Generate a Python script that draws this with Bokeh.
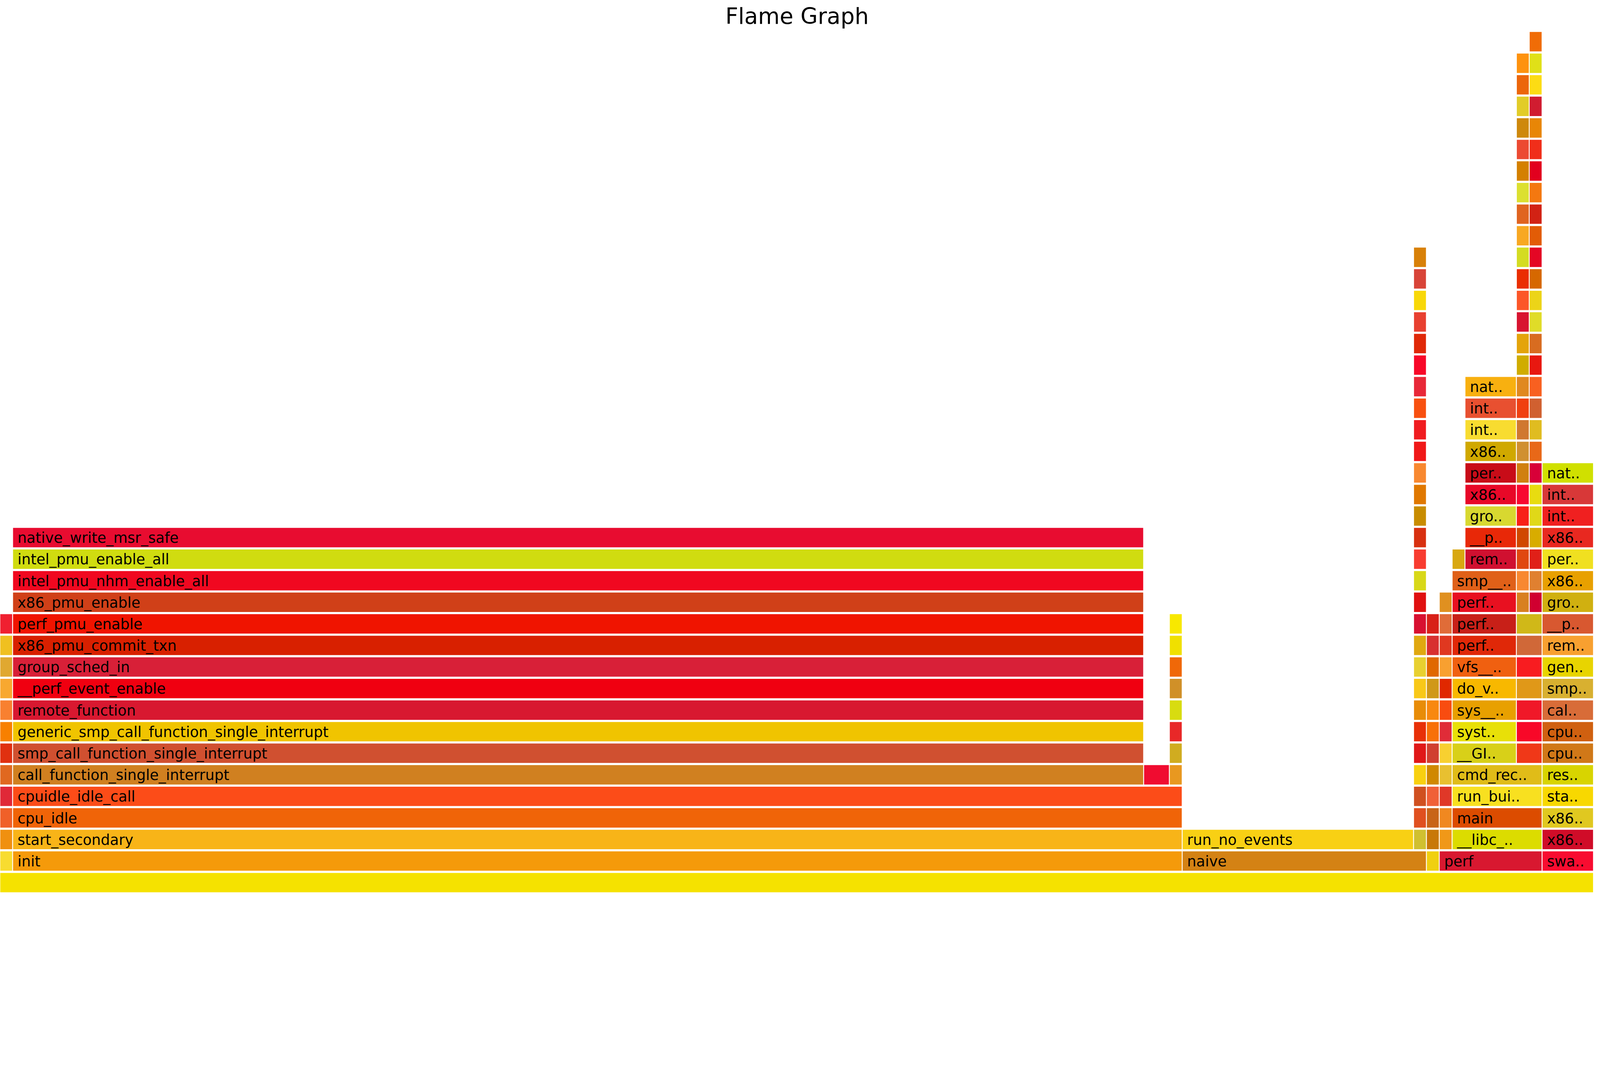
from bokeh.core.properties import value
from bokeh.embed import file_html
from bokeh.models import ColumnDataSource
from bokeh.plotting import figure
from bokeh.resources import INLINE

# each stack: start sample, widths per level, first level, labels, colours
root_color = "#f5e200"
total_samples = 124
max_depth = 40

left_colors = ["#f8dc30", "#f09010", "#f06028", "#e02838", "#e06820", "#e03010",
               "#f88000", "#f88030", "#f8a830", "#e0a830", "#f0c020", "#f02030"]

idle_names = ["init", "start_secondary", "cpu_idle", "cpuidle_idle_call",
              "call_function_single_interrupt", "smp_call_function_single_interrupt",
              "generic_smp_call_function_single_interrupt", "remote_function",
              "__perf_event_enable", "group_sched_in", "x86_pmu_commit_txn",
              "perf_pmu_enable", "x86_pmu_enable", "intel_pmu_nhm_enable_all",
              "intel_pmu_enable_all", "native_write_msr_safe"]
idle_widths = [91, 91, 91, 91, 88, 88, 88, 88, 88, 88, 88, 88, 88, 88, 88, 88]
idle_colors = ["#f59a0a", "#f8b418", "#f06408", "#fc4c18", "#d08020", "#d05030",
               "#f0c400", "#d81830", "#f00010", "#d82038", "#d82000", "#f01400",
               "#d04018", "#f00820", "#d0dc10", "#e80c30"]

irq_colors = ["#f00c30"]
col91_colors = ["#e89820", "#d0ac20", "#e82828", "#d8dc10", "#d09028", "#f06808",
                "#f0e000", "#f8e800"]

naive_names = ["naive", "run_no_events"]
naive_widths = [19, 18]
naive_colors = ["#d48214", "#f8d014"]

col110_colors = ["#d0c030", "#e05020", "#d05020", "#f8d010", "#e01818", "#e83008",
                 "#e88c08", "#f8c818", "#e8d030", "#e0a810", "#d81030", "#e01010",
                 "#d8d818", "#f83c30", "#d83010", "#c88c00", "#e07800", "#f88830",
                 "#f01818", "#f01c20", "#f85010", "#e82838", "#f80828", "#e02808",
                 "#e84030", "#f8d808", "#d84438", "#d88008"]
col111_colors = ["#f0d010", "#c87808", "#c86418", "#f06038", "#d08800", "#d04030",
                 "#f87008", "#f88810", "#d09818", "#e06800", "#d83030", "#d82018"]
col112_colors = ["#f09818", "#f08820", "#e03828", "#e8c030", "#f8d030", "#e02c38",
                 "#f84c10", "#e02800", "#f8a030", "#e03820", "#e06c38", "#e09020"]

perf_names = ["perf"]
perf_colors = ["#d81830"]

rec_names = ["__libc_..", "main", "run_bui..", "cmd_rec..", "__GI..", "syst..",
             "sys__..", "do_v..", "vfs__..", "perf..", "perf..", "perf..", "smp__.."]
rec_widths = [7, 7, 7, 7, 5, 5, 5, 5, 5, 5, 5, 5, 5]
rec_colors = ["#dcdc00", "#dc4c00", "#f8e020", "#e0bc18", "#d8d018", "#e8e008",
              "#e8a000", "#f8b800", "#f06010", "#e02808", "#c82018", "#e81020",
              "#e06018"]
col113_colors = ["#d8a810"]

pmu_names = ["rem..", "__p..", "gro..", "x86..", "per..", "x86..", "int..", "int..",
             "nat.."]
pmu_colors = ["#d01030", "#e82808", "#d8d830", "#e80828", "#c80c18", "#d0a800",
              "#f8dc30", "#e85030", "#f8b010"]

pair_colors = ["#f03818", "#f80828", "#f01828", "#e09818", "#f81c20", "#d06838",
               "#d0b818"]
col118_colors = ["#d88020", "#f88830", "#e04810", "#d04800", "#f82018", "#f80830",
                 "#d08010", "#d09030", "#d07830", "#f04010", "#e08820", "#d0ac00",
                 "#e4a40a", "#d81430", "#fc5628", "#ea2e02", "#d4dc22", "#f8a822",
                 "#e06420", "#dce030", "#d48000", "#ec4a32", "#ce880c", "#e2cc28",
                 "#ec660a", "#fe920e"]
col119_colors = ["#d00030", "#e08030", "#e02018", "#d8ac00", "#e0d818", "#e8dc10",
                 "#d80038", "#e86818", "#e0bc20", "#d06030", "#f86020", "#e81810",
                 "#d86c20", "#e0dc28", "#ecd418", "#d66800", "#e40624", "#e25c06",
                 "#d22214", "#f47810", "#e2001e", "#f02e1a", "#e88606", "#d01c30",
                 "#fcdc14", "#e0e018", "#f06c06"]

swap_names = ["swa..", "x86..", "x86..", "sta..", "res..", "cpu..", "cpu..", "cal..",
              "smp..", "gen..", "rem..", "__p..", "gro..", "x86..", "per..", "x86..",
              "int..", "int..", "nat.."]
swap_colors = ["#f80c30", "#d00c28", "#e0c820", "#f8d800", "#d8d400", "#d07818",
               "#d06010", "#d86c38", "#d8b030", "#e8d400", "#f8a030", "#d85830",
               "#d0b010", "#e8a000", "#f0e020", "#e82820", "#f02020", "#d83838",
               "#d0e000"]

levels, lefts, rights, labels, colors = [], [], [], [], []


def add_stack(start, first_level, cols, widths=None, names=None):
    for i, c in enumerate(cols):
        w = widths[i] if widths else 1
        levels.append(first_level + i)
        lefts.append(start)
        rights.append(start + w)
        labels.append(names[i] if names else "")
        colors.append(c)


add_stack(0, 0, [root_color], [total_samples])
add_stack(0, 1, left_colors)
add_stack(1, 1, idle_colors, idle_widths, idle_names)
add_stack(89, 5, irq_colors, [2])
add_stack(91, 5, col91_colors)
add_stack(92, 1, naive_colors, naive_widths, naive_names)
add_stack(110, 2, col110_colors)
add_stack(111, 1, col111_colors)
add_stack(112, 1, perf_colors, [8], perf_names)
add_stack(112, 2, col112_colors)
add_stack(113, 2, rec_colors, rec_widths, rec_names)
add_stack(113, 15, col113_colors)
add_stack(114, 15, pmu_colors, [4] * len(pmu_colors), pmu_names)
add_stack(118, 6, pair_colors, [2] * len(pair_colors))
add_stack(118, 13, col118_colors)
add_stack(119, 13, col119_colors)
add_stack(120, 1, swap_colors, [4] * len(swap_colors), swap_names)

src = ColumnDataSource(dict(
    left=lefts, right=[r - 0.07 for r in rights],
    bottom=[l + 0.04 for l in levels], top=[l + 0.94 for l in levels],
    tx=[l + 0.35 for l in lefts], ty=[l + 0.47 for l in levels],
    label=labels, color=colors))

p = figure(width=4080, height=2285, x_range=(0, total_samples), y_range=(0, max_depth),
           title="Flame Graph", output_backend="svg", toolbar_location=None,
           min_border=0)
p.title.align = "center"
p.title.text_font = "DejaVu Sans"
p.title.text_font_style = "normal"
p.title.text_font_size = "57px"
p.title.text_color = "black"
p.title.offset = 0
p.axis.visible = False
p.grid.visible = False
p.outline_line_color = None

p.quad(left="left", right="right", bottom="bottom", top="top", source=src,
       fill_color="color", line_color=None)
p.text(x="tx", y="ty", text="label", source=src, text_font=value("DejaVu Sans"),
       text_font_size="37px", text_color="black", text_baseline="middle")

open("out.html", "w").write(file_html(p, INLINE))
